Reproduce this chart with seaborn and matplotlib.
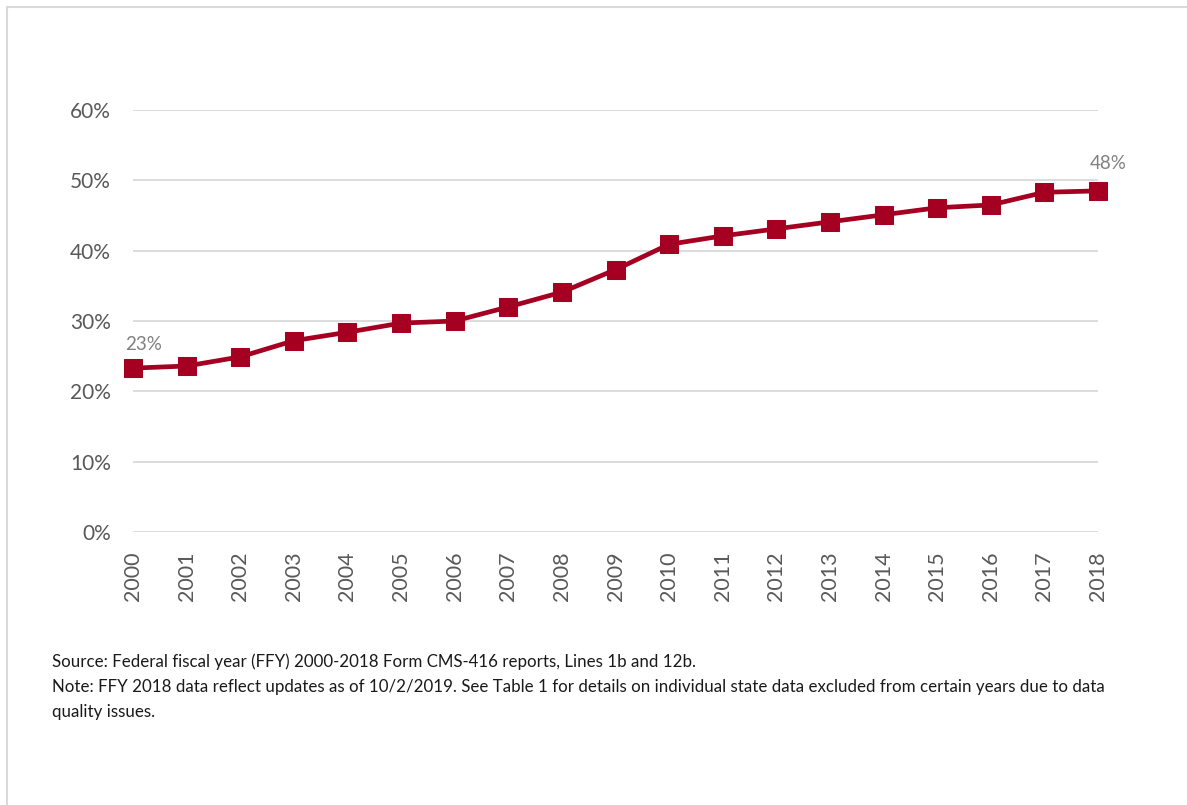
import numpy as np
import pandas as pd
import matplotlib
matplotlib.use("Agg")
import matplotlib.pyplot as plt
import seaborn as sns
from matplotlib.ticker import PercentFormatter
from matplotlib.lines import Line2D

# data
years = list(range(2000, 2019))
share = [23.3, 23.6, 24.9, 27.2, 28.4, 29.7, 30.0, 32.0, 34.1, 37.3,
         40.9, 42.1, 43.1, 44.1, 45.1, 46.1, 46.5, 48.3, 48.5]
yticks = [0, 10, 20, 30, 40, 50, 60]
footnotes = [
    "Source: Federal fiscal year (FFY) 2000-2018 Form CMS-416 reports, Lines 1b and 12b.",
    "Note: FFY 2018 data reflect updates as of 10/2/2019. See Table 1 for details on individual state data excluded from certain years due to data",
    "quality issues.",
]

df = pd.DataFrame({"year": years, "share": share})

sns.set_style("white")
plt.rcParams["font.family"] = ["Lato", "DejaVu Sans"]

fig = plt.figure(figsize=(11.87, 8.05), dpi=100)
ax = fig.add_axes([133 / 1187, 1 - 532 / 805, (1098 - 133) / 1187, (532 - 110) / 805])

red = "#A50021"
sns.lineplot(data=df, x="year", y="share", ax=ax, color=red, linewidth=3.4,
             marker="s", markersize=12.5, markeredgecolor=red, clip_on=False)

ax.set_xlim(2000, 2018)
ax.set_ylim(0, 60)
ax.set_yticks(yticks)
ax.yaxis.set_major_formatter(PercentFormatter(decimals=0))
ax.set_xticks(years)
ax.set_xticklabels([str(y) for y in years], rotation=90)
ax.grid(axis="y", color="#d9d9d9", linewidth=1.3)
ax.grid(axis="x", visible=False)
ax.set_axisbelow(True)
for s in ax.spines.values():
    s.set_visible(False)
ax.tick_params(axis="y", labelsize=15, labelcolor="#595959", length=0, pad=16)
ax.tick_params(axis="x", labelsize=15.5, labelcolor="#595959", length=0, pad=14)
ax.set_xlabel("")
ax.set_ylabel("")

# labels on first and last points
ax.annotate(f"{share[0]:.0f}%", (years[0], share[0]), xytext=(-6, 17),
            textcoords="offset points", fontsize=13.5, color="#808080", ha="left", va="center")
ax.annotate(f"{share[-1]:.0f}%", (years[-1], share[-1]), xytext=(7, 20),
            textcoords="offset points", fontsize=13.5, color="#808080", ha="center", va="center")

for i, line in enumerate(footnotes):
    fig.text(52 / 1187, 1 - (662 + 25 * i) / 805, line, fontsize=12.2, color="#1a1a1a", va="center")

# chart frame (top and left edges visible)
fig.add_artist(Line2D([7 / 1187, 1], [1 - 7 / 805, 1 - 7 / 805], color="#d9d9d9", linewidth=1.5))
fig.add_artist(Line2D([7 / 1187, 7 / 1187], [0, 1 - 7 / 805], color="#d9d9d9", linewidth=1.5))

fig.savefig("out.png", dpi=100)
